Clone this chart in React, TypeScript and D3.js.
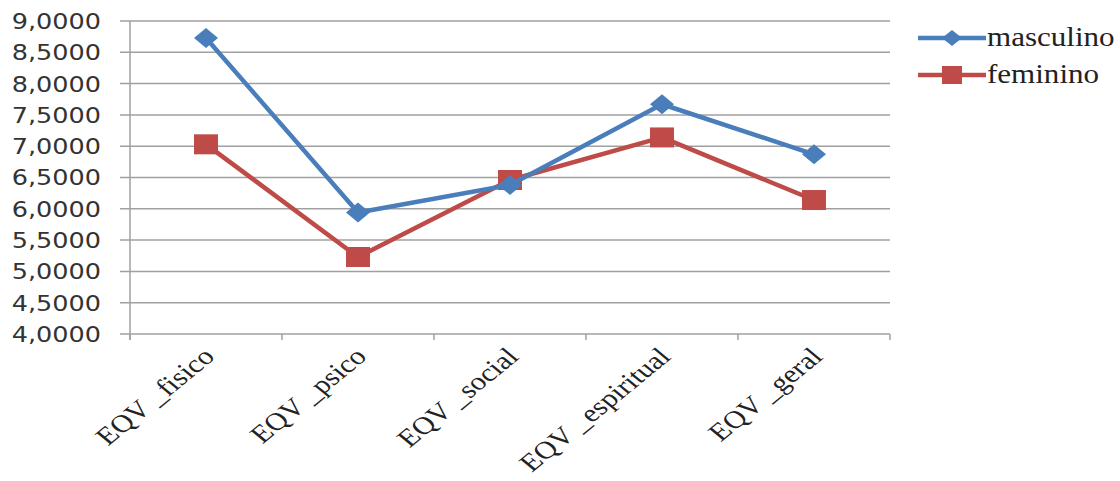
import { useEffect, useRef } from "react"
import * as d3 from "d3"

const categories = ["EQV_fisico", "EQV_psico", "EQV_social", "EQV_espiritual", "EQV_geral"]
const labels = ["EQV _fisico", "EQV _psico", "EQV _social", "EQV _espiritual", "EQV _geral"]
const masculino = [8.73, 5.94, 6.38, 7.67, 6.87]
const feminino = [7.03, 5.23, 6.46, 7.14, 6.14]
const yTicks = [4, 4.5, 5, 5.5, 6, 6.5, 7, 7.5, 8, 8.5, 9]

const BLUE = "#4A7EBB"
const RED = "#BE4B48"
const GRID = "#A0A0A0"
const SERIF = "'Liberation Serif', 'Times New Roman', serif"

export default function App() {
  const ref = useRef<SVGSVGElement>(null)

  useEffect(() => {
    const svg = d3.select(ref.current)
    svg.selectAll("*").remove()

    const x = d3.scaleBand<string>().domain(categories).range([130, 890])
    const y = d3.scaleLinear().domain([4, 9]).range([334, 21])
    const cx = (c: string) => (x(c) ?? 0) + x.bandwidth() / 2

    const g = svg.append("g")

    // horizontal gridlines
    g.selectAll("line.grid")
      .data(yTicks)
      .join("line")
      .attr("x1", 120)
      .attr("x2", 890)
      .attr("y1", (d) => y(d))
      .attr("y2", (d) => y(d))
      .attr("stroke", GRID)
      .attr("stroke-width", 1.5)

    // y axis line
    g.append("line")
      .attr("x1", 130).attr("x2", 130)
      .attr("y1", y(9)).attr("y2", y(4) + 6)
      .attr("stroke", GRID).attr("stroke-width", 1.5)

    // x tick marks at band boundaries
    const bounds = categories.map((c) => x(c) ?? 0).concat([890])
    g.selectAll("line.xt")
      .data(bounds)
      .join("line")
      .attr("x1", (d) => d).attr("x2", (d) => d)
      .attr("y1", y(4)).attr("y2", y(4) + 6)
      .attr("stroke", GRID).attr("stroke-width", 1.5)

    // y tick labels
    const fmt = (v: number) => v.toFixed(4).replace(".", ",")
    g.selectAll("text.yl")
      .data(yTicks)
      .join("text")
      .attr("transform", (d) => `translate(101,${y(d)}) scale(1.16,1)`)
      .attr("text-anchor", "end")
      .attr("dy", "0.36em")
      .style("font-family", "'DejaVu Sans', Verdana, sans-serif")
      .attr("font-size", 22)
      .attr("fill", "#333")
      .text(fmt)

    // x labels
    g.selectAll("text.xl")
      .data(categories)
      .join("text")
      .attr("transform", (c) => `translate(${cx(c) + 10},${y(4) + 24}) scale(1.22,1) rotate(-45)`)
      .attr("text-anchor", "end")
      .style("font-family", SERIF)
      .attr("font-size", 25)
      .attr("fill", "#222")
      .text((_c, i) => labels[i])

    const line = d3.line<number>()
      .x((_d, i) => cx(categories[i]))
      .y((d) => y(d))

    // feminino series
    g.append("path")
      .datum(feminino)
      .attr("d", line)
      .attr("fill", "none")
      .attr("stroke", RED)
      .attr("stroke-width", 4.5)
      .attr("stroke-linejoin", "round")
    g.selectAll("rect.fm")
      .data(feminino)
      .join("rect")
      .attr("x", (_d, i) => cx(categories[i]) - 12)
      .attr("y", (d) => y(d) - 10)
      .attr("width", 24)
      .attr("height", 20)
      .attr("fill", RED)

    // masculino series
    g.append("path")
      .datum(masculino)
      .attr("d", line)
      .attr("fill", "none")
      .attr("stroke", BLUE)
      .attr("stroke-width", 4.5)
      .attr("stroke-linejoin", "round")
    g.selectAll("path.mm")
      .data(masculino)
      .join("path")
      .attr("transform", (d, i) => `translate(${cx(categories[i])},${y(d)})`)
      .attr("d", "M0,-10 L12,0 L0,10 L-12,0 Z")
      .attr("fill", BLUE)

    // legend
    const legend = g.append("g")
    const items = [
      { name: "masculino", color: BLUE, shape: "diamond", yy: 38 },
      { name: "feminino", color: RED, shape: "square", yy: 75 },
    ]
    items.forEach((it) => {
      legend.append("line")
        .attr("x1", 918).attr("x2", 986)
        .attr("y1", it.yy).attr("y2", it.yy)
        .attr("stroke", it.color).attr("stroke-width", 4.5)
      if (it.shape === "diamond") {
        legend.append("path")
          .attr("transform", `translate(952,${it.yy})`)
          .attr("d", "M0,-8 L10,0 L0,8 L-10,0 Z")
          .attr("fill", it.color)
      } else {
        legend.append("rect")
          .attr("x", 942).attr("y", it.yy - 9)
          .attr("width", 20).attr("height", 18)
          .attr("fill", it.color)
      }
      legend.append("text")
        .attr("transform", `translate(987,${it.yy}) scale(1.15,1)`)
        .attr("dy", "0.3em")
        .style("font-family", SERIF)
        .attr("font-size", 27)
        .attr("fill", "#222")
        .text(it.name)
    })
  }, [])

  return (
    <div style={{ position: "fixed", left: 0, top: 0, width: 1120, height: 481, background: "#fff" }}>
      <svg ref={ref} width={1120} height={481} />
    </div>
  )
}
